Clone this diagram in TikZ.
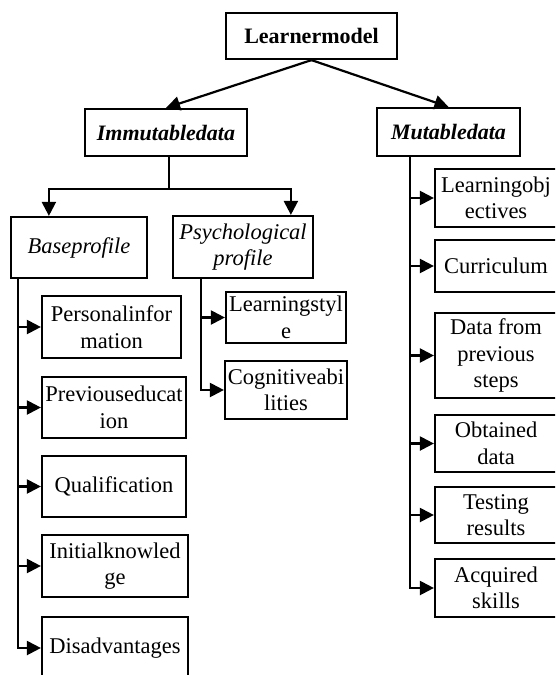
\documentclass[tikz,border=0pt]{standalone}
\usepackage{fontspec}
\setmainfont{Liberation Serif}
\usetikzlibrary{arrows.meta}
\begin{document}
\begin{tikzpicture}[x=1pt,y=-1pt,
  box/.style={draw=black,line width=2.2pt,rectangle,inner sep=0pt,align=center,
    font=\fontsize{22.5}{26.5}\selectfont},
  conn/.style={line width=2.2pt,-{Triangle[length=14pt,width=14pt]}}]
\useasboundingbox (0,0) rectangle (555,675);
\clip (0,0) rectangle (555,675);
\fill[white] (0,0) rectangle (555,675);
% top levels
\node[box,minimum width=171,minimum height=46,font=\fontsize{22}{26.5}\selectfont\bfseries] (LM) at (311.5,36) {Learnermodel};
\node[box,minimum width=162,minimum height=47,font=\fontsize{22}{26.5}\selectfont\bfseries\itshape] (IM) at (166,132.5) {Immutabledata};
\node[box,minimum width=143,minimum height=48,font=\fontsize{22}{26.5}\selectfont\bfseries\itshape] (MU) at (448.5,132) {Mutabledata};
% second level
\node[box,minimum width=136,minimum height=61,font=\fontsize{22.5}{26.5}\selectfont\itshape] (BP) at (79,247.5) {Baseprofile};
\node[box,minimum width=140,minimum height=62,font=\fontsize{22.5}{26.5}\selectfont\itshape] (PP) at (243,247) {Psychological\\profile};
% base profile children
\node[box,minimum width=139,minimum height=62] (PI) at (111.5,327) {Personalinfor\\mation};
\node[box,minimum width=144,minimum height=61] (PE) at (114,407.5) {Previouseducat\\ion};
\node[box,minimum width=144,minimum height=61] (QU) at (114,486.5) {Qualification};
\node[box,minimum width=146,minimum height=62] (IK) at (115,566) {Initialknowled\\ge};
\node[box,minimum width=146,minimum height=62] (DI) at (115,648) {Disadvantages};
% psychological children
\node[box,minimum width=120,minimum height=51] (LS) at (286,317.5) {Learningstyl\\e};
\node[box,minimum width=122,minimum height=58] (CA) at (286,390) {Cognitiveabi\\lities};
% mutable children
\node[box,minimum width=122,minimum height=58] (LO) at (496,198) {Learningobj\\ectives};
\node[box,minimum width=122,minimum height=52] (CU) at (496,266) {Curriculum};
\node[box,minimum width=122,minimum height=85] (DP) at (496,355.5) {Data from\\previous\\steps};
\node[box,minimum width=122,minimum height=57] (OD) at (496,443.5) {Obtained\\data};
\node[box,minimum width=122,minimum height=56] (TR) at (496,515) {Testing\\results};
\node[box,minimum width=122,minimum height=58] (AS) at (496,588) {Acquired\\skills};
% connectors from root
\draw[conn] (LM.south) -- (IM.north);
\draw[conn] (LM.south) -- (MU.north);
% immutable split
\draw[conn] ([xshift=3]IM.south) -- ++(0,32) -| ([xshift=39]BP.north west);
\draw[conn] ([xshift=3]IM.south) -- ++(0,32) -| ([xshift=119]PP.north west);
% base profile
\draw[conn] ([xshift=8]BP.south west) |- (PI.west);
\draw[conn] ([xshift=8]BP.south west) |- (PE.west);
\draw[conn] ([xshift=8]BP.south west) |- (QU.west);
\draw[conn] ([xshift=8]BP.south west) |- (IK.west);
\draw[conn] ([xshift=8]BP.south west) |- (DI.west);
% psychological
\draw[conn] ([xshift=29]PP.south west) |- (LS.west);
\draw[conn] ([xshift=29]PP.south west) |- (CA.west);
% mutable
\draw[conn] ([xshift=34]MU.south west) |- (LO.west);
\draw[conn] ([xshift=34]MU.south west) |- (CU.west);
\draw[conn] ([xshift=34]MU.south west) |- (DP.west);
\draw[conn] ([xshift=34]MU.south west) |- (OD.west);
\draw[conn] ([xshift=34]MU.south west) |- (TR.west);
\draw[conn] ([xshift=34]MU.south west) |- (AS.west);
\end{tikzpicture}
\end{document}
